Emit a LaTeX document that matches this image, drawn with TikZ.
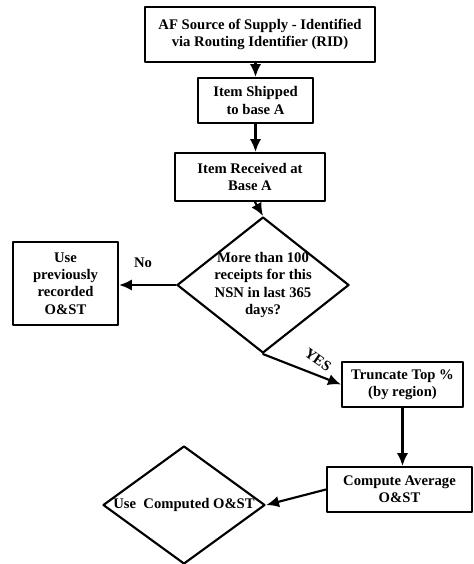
\documentclass[tikz,border=0pt]{standalone}
\usepackage{fontspec}
\setmainfont{Liberation Serif}
\usetikzlibrary{arrows.meta, positioning, shapes.geometric, calc}
\tikzset{every node/.style={font=\fontsize{11}{13}\selectfont\bfseries}, every path/.style={line cap=round, line join=round}, >={Latex[length=3.4mm, width=3mm]}}
\tikzset{
    flowbox/.style={draw, line width=1.6pt, align=center, inner sep=0pt},
    decision/.style={draw, diamond, line width=1.6pt, align=center, inner sep=-8pt},
    flowarrow/.style={->, line width=1.6pt}
}

\begin{document}
\begin{tikzpicture}[x=0.75pt, y=-0.75pt]
    \useasboundingbox (0,0) rectangle (474,564);

    \node [flowbox, minimum width=172.5pt, minimum height=41.25pt] (src) at (260,34.5) {AF Source of Supply - Identified\\via Routing Identifier (RID)};
    \node [flowbox, minimum width=86.25pt, minimum height=33.75pt] (ship) at (255.5,100.5) {Item Shipped\\to base A};
    \node [flowbox, minimum width=112.5pt, minimum height=36pt] (recv) at (250,177) {Item Received at\\Base A};
    \node [decision, minimum width=129pt, minimum height=102pt] (dec) at (263,285) {More than 100\\receipts for this\\NSN in last 365\\days?};
    \node [flowbox, minimum width=78.75pt, minimum height=62.25pt] (prev) at (65.5,283.5) {Use\\previously\\recorded\\O\&ST};
    \node [flowbox, minimum width=90.75pt, minimum height=33.75pt] (trunc) at (402.5,384.5) {Truncate Top \%\\(by region)};
    \node [flowbox, minimum width=108.75pt, minimum height=33.75pt] (comp) at (399.5,489.5) {Compute Average\\O\&ST};
    \node [decision, minimum width=121.5pt, minimum height=88.5pt] (use) at (184,505) {Use\ \ Computed O\&ST};

    % branch labels
    \node (no) at (143,263) {No};
    \node [rotate=-35, inner sep=1pt] (yes) at (318,360) {YES};

    \draw [flowarrow] (src.south -| ship.north) -- (ship.north);
    \draw [flowarrow] (ship.south) -- (ship.south |- recv.north);
    \draw [flowarrow] ($(recv.south)+(5,0)$) -- (dec.north);
    \draw [flowarrow] (dec.west) -- (dec.west -| prev.east);
    \draw [flowarrow] (dec.south) -- (trunc.west);
    \draw [flowarrow] (trunc.south) -- (trunc.south |- comp.north);
    \draw [flowarrow] (comp.west) -- (use.east);
\end{tikzpicture}
\end{document}
